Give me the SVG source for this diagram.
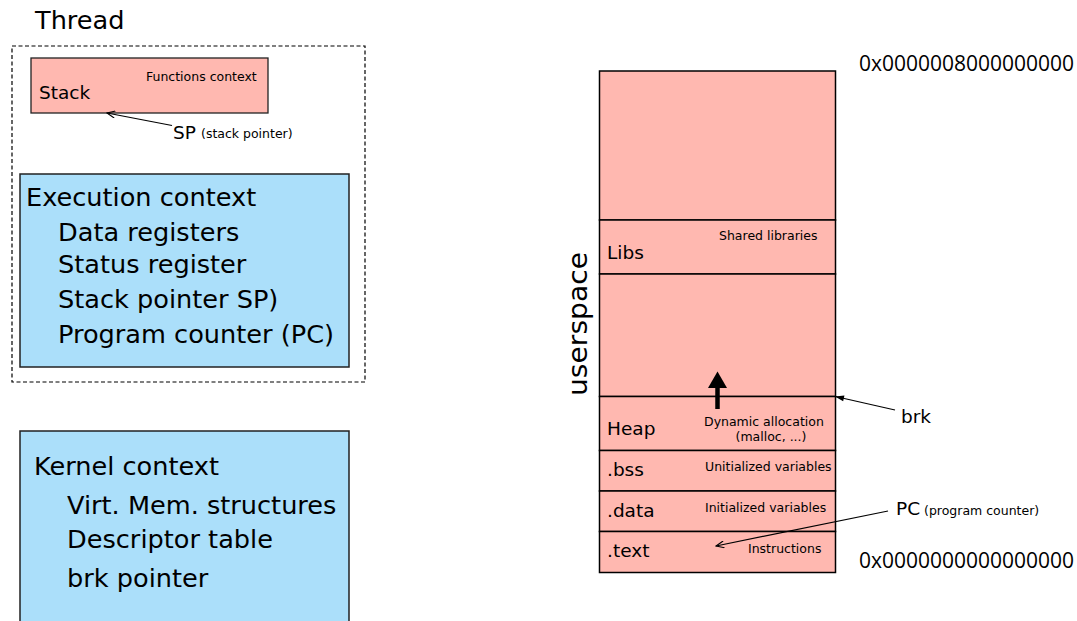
<svg xmlns="http://www.w3.org/2000/svg" width="1077" height="621" viewBox="0 0 1077 621">
<style>
text{font-family:"DejaVu Sans",sans-serif;fill:#000}
.big{font-size:25.6px}
.mid{font-size:18.5px}
.sm{font-size:12.5px}
.hex{font-family:"Open Sans","Noto Sans",sans-serif;font-size:21px}
.seg{fill:#ffb8b0;stroke:#000;stroke-width:1.5}
.blue{fill:#abdffa;stroke:#222;stroke-width:1.5}
.conn{fill:none;stroke:#000;stroke-width:1.2}
</style>
<defs>
<marker id="ah" markerWidth="10" markerHeight="8" refX="9" refY="4" orient="auto" markerUnits="userSpaceOnUse">
<path d="M1,0.5 L9,4 L1,7.5" fill="none" stroke="#000" stroke-width="1.1"/>
</marker>
<marker id="af" markerWidth="10" markerHeight="8" refX="9.5" refY="4" orient="auto" markerUnits="userSpaceOnUse">
<path d="M1,1 L10,4 L1,7 z" fill="#000"/>
</marker>
</defs>

<g id="thread">
<rect x="12" y="46" width="353" height="336" fill="none" stroke="#000" stroke-width="1.2" stroke-dasharray="4,2.5"/>
<text class="big" x="35" y="29">Thread</text>
</g>

<g id="stack">
<rect x="31" y="58" width="237" height="55" fill="#ffb8b0" stroke="#222" stroke-width="1.3"/>
<text class="mid" x="39" y="98.5">Stack</text>
<text class="sm" x="146" y="81">Functions context</text>
</g>

<g id="sp-label">
<text class="mid" x="173" y="138.5">SP</text>
<text class="sm" x="201" y="138">(stack pointer)</text>
</g>

<g id="execution-context">
<rect class="blue" x="20" y="174" width="329" height="193"/>
<text class="big" x="26" y="206">Execution context</text>
<text class="big" x="58" y="241">Data registers</text>
<text class="big" x="58" y="273">Status register</text>
<text class="big" x="58" y="308">Stack pointer SP)</text>
<text class="big" x="58" y="343">Program counter (PC)</text>
</g>

<g id="kernel-context">
<path class="blue" d="M20,625 V431 H349 V625"/>
<text class="big" x="34" y="475">Kernel context</text>
<text class="big" x="67" y="514">Virt. Mem. structures</text>
<text class="big" x="67" y="548">Descriptor table</text>
<text class="big" x="67" y="587">brk pointer</text>
</g>

<g id="userspace-label">
<text x="0" y="0" font-size="27" textLength="144" lengthAdjust="spacingAndGlyphs" transform="translate(587,396) rotate(-90)">userspace</text>
</g>

<g id="seg-top">
<rect class="seg" x="599.5" y="71" width="236" height="149"/>
</g>
<g id="seg-libs">
<rect class="seg" x="599.5" y="220" width="236" height="54"/>
<text class="mid" x="607" y="259">Libs</text>
<text class="sm" x="719" y="240">Shared libraries</text>
</g>
<g id="seg-free">
<rect class="seg" x="599.5" y="274" width="236" height="122.5"/>
</g>
<g id="seg-heap">
<rect class="seg" x="599.5" y="396.5" width="236" height="54"/>
<text class="mid" x="607" y="435">Heap</text>
<text class="sm" x="704" y="426">Dynamic allocation</text>
<text class="sm" x="735.5" y="441">(malloc, ...)</text>
</g>
<g id="seg-bss">
<rect class="seg" x="599.5" y="450.5" width="236" height="40.5"/>
<text class="mid" x="607" y="476">.bss</text>
<text class="sm" x="705" y="471">Unitialized variables</text>
</g>
<g id="seg-data">
<rect class="seg" x="599.5" y="491" width="236" height="40.5"/>
<text class="mid" x="607" y="517">.data</text>
<text class="sm" x="705" y="512">Initialized variables</text>
</g>
<g id="seg-text">
<rect class="seg" x="599.5" y="531.5" width="236" height="41"/>
<text class="mid" x="607" y="557">.text</text>
<text class="sm" x="748" y="553">Instructions</text>
</g>

<g id="addr-top"><text class="hex" x="859" y="71">0x0000008000000000</text></g>
<g id="addr-bottom"><text class="hex" x="859" y="568">0x0000000000000000</text></g>

<g id="brk-label"><text class="mid" x="901" y="423">brk</text></g>
<g id="pc-label">
<text class="mid" x="896" y="515">PC</text>
<text class="sm" x="924" y="515">(program counter)</text>
</g>

<g id="connectors">
<line class="conn" x1="172" y1="125.5" x2="107" y2="113" marker-end="url(#ah)"/>
<line class="conn" x1="895" y1="410" x2="835.5" y2="396.5" marker-end="url(#af)"/>
<line class="conn" x1="888" y1="511" x2="716" y2="546" marker-end="url(#ah)"/>
<g id="growth-arrow">
<line x1="717.5" y1="409" x2="717.5" y2="386" stroke="#000" stroke-width="4.5"/>
<path d="M708,388 L727,388 L717.5,371.5 z" fill="#000"/>
</g>
</g>
</svg>
